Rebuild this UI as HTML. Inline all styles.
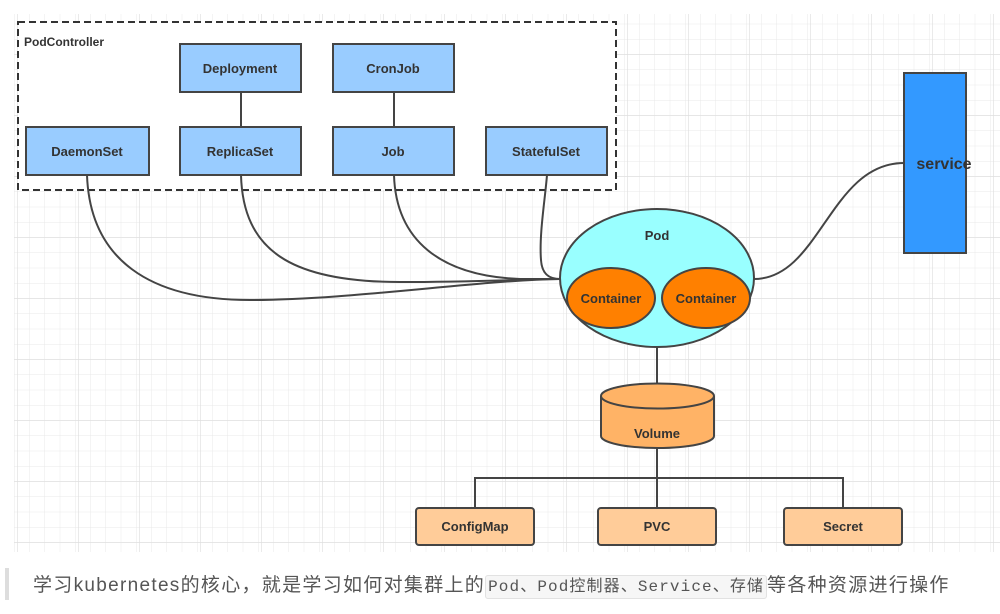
<!DOCTYPE html>
<html><head><meta charset="utf-8"><style>
body{margin:0;background:#fff;width:1000px;height:614px;overflow:hidden;position:relative;font-family:"Liberation Sans","Noto Sans CJK SC",sans-serif}
svg{position:absolute;left:0;top:0}
.t{font-family:"Liberation Sans",sans-serif;font-weight:bold;font-size:13px;fill:#333;text-anchor:middle}
#cap{position:absolute;left:33px;top:570px;font-size:19px;color:#555;white-space:nowrap;letter-spacing:1.3px}
#bar{position:absolute;left:5px;top:568px;width:4px;height:32px;background:#ddd}
code{font-family:"Liberation Mono","Noto Sans CJK SC",monospace;font-size:16px;background:#f6f6f6;border:1px solid #e2e2e2;border-radius:3px;padding:2px 2px;color:#555;letter-spacing:1.1px}
</style></head><body>
<svg width="1000" height="614" viewBox="0 0 1000 614">
<defs>
<pattern id="g" x="14" y="8.5" width="15.25" height="15.25" patternUnits="userSpaceOnUse">
<path d="M0 0H15.25M0 0V15.25" stroke="#e9e9e9" stroke-width="1" fill="none"/>
</pattern>
<pattern id="G" x="17" y="-7" width="61" height="61" patternUnits="userSpaceOnUse">
<path d="M0 0H61M0 0V61" stroke="#dedede" stroke-width="1.3" fill="none"/>
</pattern>
</defs>
<rect x="14" y="14" width="986" height="538" fill="url(#g)"/>
<rect x="14" y="14" width="986" height="538" fill="url(#G)"/>
<rect x="18" y="22" width="598" height="168" fill="#fff" stroke="#333" stroke-width="2" stroke-dasharray="7,4"/>
<text x="24" y="46" class="t" style="text-anchor:start;font-size:12px">PodController</text>
<g stroke="#444" stroke-width="2" fill="none">
<path d="M241 92V127M394 92V127"/>
<path d="M87 175C90 260 150 300 250 300C350 300 480 280 560 279"/>
<path d="M241 175C243 250 290 282 400 282C480 282 530 279 560 279"/>
<path d="M394 175C396 240 440 276 520 279L560 279"/>
<path d="M547 175C545 200 539 235 541 260C542 275 550 279 560 279"/>
<path d="M754 279C820 279 830 163 904 163"/>
<path d="M657 347V385M657 447V478M475 508V478H843V508M657 478V508"/>
</g>
<g fill="#99ccff" stroke="#444" stroke-width="2">
<rect x="180" y="44" width="121" height="48"/>
<rect x="333" y="44" width="121" height="48"/>
<rect x="26" y="127" width="123" height="48"/>
<rect x="180" y="127" width="121" height="48"/>
<rect x="333" y="127" width="121" height="48"/>
<rect x="486" y="127" width="121" height="48"/>
</g>
<text x="240" y="73" class="t">Deployment</text>
<text x="393" y="73" class="t">CronJob</text>
<text x="87" y="156" class="t">DaemonSet</text>
<text x="240" y="156" class="t">ReplicaSet</text>
<text x="393" y="156" class="t">Job</text>
<text x="546" y="156" class="t">StatefulSet</text>
<rect x="904" y="73" width="62" height="180" fill="#3399ff" stroke="#444" stroke-width="2"/>
<text x="944" y="169" class="t" style="font-size:16px">service</text>
<ellipse cx="657" cy="278" rx="97" ry="69" fill="#99ffff" stroke="#444" stroke-width="2"/>
<text x="657" y="240" class="t">Pod</text>
<ellipse cx="611" cy="298" rx="44" ry="30" fill="#ff8000" stroke="#444" stroke-width="2"/>
<ellipse cx="706" cy="298" rx="44" ry="30" fill="#ff8000" stroke="#444" stroke-width="2"/>
<text x="611" y="303" class="t">Container</text>
<text x="706" y="303" class="t">Container</text>
<path d="M601 396V436A56.5 12 0 0 0 714 436V396" fill="#ffb366" stroke="#444" stroke-width="2"/>
<ellipse cx="657.5" cy="396" rx="56.5" ry="12.5" fill="#ffb366" stroke="#444" stroke-width="2"/>
<text x="657" y="438" class="t">Volume</text>
<g fill="#ffcc99" stroke="#444" stroke-width="2">
<rect x="416" y="508" width="118" height="37" rx="3"/>
<rect x="598" y="508" width="118" height="37" rx="3"/>
<rect x="784" y="508" width="118" height="37" rx="3"/>
</g>
<text x="475" y="531" class="t">ConfigMap</text>
<text x="657" y="531" class="t">PVC</text>
<text x="843" y="531" class="t">Secret</text>
</svg>
<div id="bar"></div>
<div id="cap">学习kubernetes的核心，就是学习如何对集群上的<code>Pod、Pod控制器、Service、存储</code>等各种资源进行操作</div>
</body></html>
